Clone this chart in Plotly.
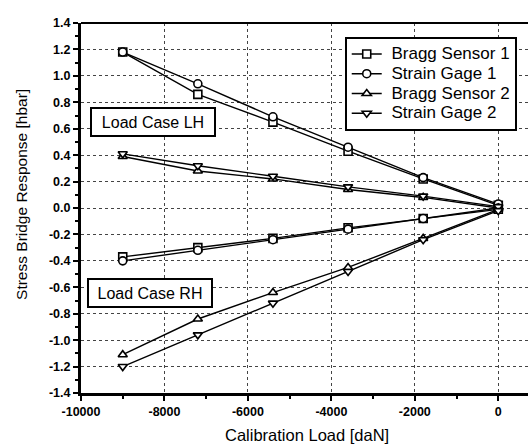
import plotly.graph_objects as go

# Calibration loads (daN)
load = [-9000, -7200, -5400, -3600, -1800, 0]

# Load case LH
bragg1_lh = [1.18, 0.86, 0.65, 0.43, 0.22, 0.02]
strain1_lh = [1.18, 0.94, 0.69, 0.46, 0.23, 0.03]
bragg2_lh = [0.39, 0.28, 0.22, 0.14, 0.08, 0.00]
strain2_lh = [0.41, 0.32, 0.24, 0.16, 0.09, 0.01]

# Load case RH
bragg1_rh = [-0.37, -0.30, -0.23, -0.15, -0.08, -0.01]
strain1_rh = [-0.40, -0.32, -0.24, -0.16, -0.08, 0.00]
bragg2_rh = [-1.11, -0.84, -0.64, -0.45, -0.23, -0.01]
strain2_rh = [-1.20, -0.96, -0.72, -0.48, -0.24, -0.02]

series_names = ["Bragg Sensor 1", "Strain Gage 1", "Bragg Sensor 2", "Strain Gage 2"]
symbols = ["square", "circle", "triangle-up", "triangle-down"]
lh_values = [bragg1_lh, strain1_lh, bragg2_lh, strain2_lh]
rh_values = [bragg1_rh, strain1_rh, bragg2_rh, strain2_rh]

x_ticks = [-10000, -8000, -6000, -4000, -2000, 0]
y_ticks = [-1.4, -1.2, -1.0, -0.8, -0.6, -0.4, -0.2, 0.0, 0.2, 0.4, 0.6, 0.8, 1.0, 1.2, 1.4]

FONT = "Arial, Liberation Sans, Helvetica, sans-serif"

fig = go.Figure()
for name, sym, lh, rh in zip(series_names, symbols, lh_values, rh_values):
    for vals, show in ((lh, True), (rh, False)):
        fig.add_trace(go.Scatter(
            x=load, y=vals,
            # legend rows are spaced tightly; the label itself is drawn larger
            name=f'<span style="font-size:17px">&nbsp;{name}</span>',
            legendgroup=name, showlegend=show,
            mode="lines+markers",
            line=dict(color="black", width=1.4),
            marker=dict(symbol=sym, size=8, color="white",
                        line=dict(color="black", width=1.6)),
        ))

axis_common = dict(
    showgrid=True, gridcolor="#444", griddash="dot", gridwidth=1,
    zeroline=False, showline=True, linecolor="black", linewidth=3,
    ticks="outside", ticklen=5, tickwidth=2, tickcolor="black",
    tickfont=dict(family=FONT, size=12.5, color="black"),
)

fig.update_xaxes(
    range=[-10000, 712], tickvals=x_ticks,
    ticktext=[f"<b>{v}</b>" for v in x_ticks],
    minor=dict(dtick=1000, ticks="outside", ticklen=3, tickwidth=2,
               tickcolor="black", showgrid=False),
    **axis_common,
)
fig.update_yaxes(
    range=[-1.4, 1.4], tickvals=y_ticks,
    ticktext=[f"<b>{v:.1f}</b>" for v in y_ticks],
    minor=dict(dtick=0.1, ticks="outside", ticklen=3, tickwidth=2,
               tickcolor="black", showgrid=False),
    **axis_common,
)

fig.update_layout(
    width=530, height=446,
    margin=dict(l=81, r=2, t=23, b=53),
    paper_bgcolor="white", plot_bgcolor="white",
    font=dict(family=FONT, color="black"),
    showlegend=True,
    legend=dict(
        x=0.59, y=0.962, xanchor="left", yanchor="top",
        bgcolor="white", bordercolor="black", borderwidth=2,
        font=dict(family=FONT, size=12.9, color="black"),
        tracegroupgap=0, itemwidth=30,
    ),
    shapes=[dict(type="line", xref="paper", yref="paper",
                 x0=0, x1=1, y0=1, y1=1,
                 line=dict(color="black", width=2))],
    annotations=[
        dict(text="Load Case LH", x=-8263, y=0.65, xref="x", yref="y",
             showarrow=False, font=dict(family=FONT, size=16, color="black"),
             bgcolor="white", bordercolor="black", borderwidth=2,
             borderpad=3, width=116, height=20),
        dict(text="Load Case RH", x=-8335, y=-0.646, xref="x", yref="y",
             showarrow=False, font=dict(family=FONT, size=16, color="black"),
             bgcolor="white", bordercolor="black", borderwidth=2,
             borderpad=3, width=116, height=20),
        dict(text="Calibration Load [daN]", x=0.505, y=-0.1135,
             xref="paper", yref="paper", showarrow=False,
             xanchor="center", yanchor="middle",
             font=dict(family=FONT, size=16.5, color="black")),
        dict(text="Stress Bridge Response [hbar]", x=-0.132, y=0.538,
             xref="paper", yref="paper", showarrow=False, textangle=-90,
             xanchor="center", yanchor="middle",
             font=dict(family=FONT, size=15.5, color="black")),
    ],
)

fig.write_html("out.html")
